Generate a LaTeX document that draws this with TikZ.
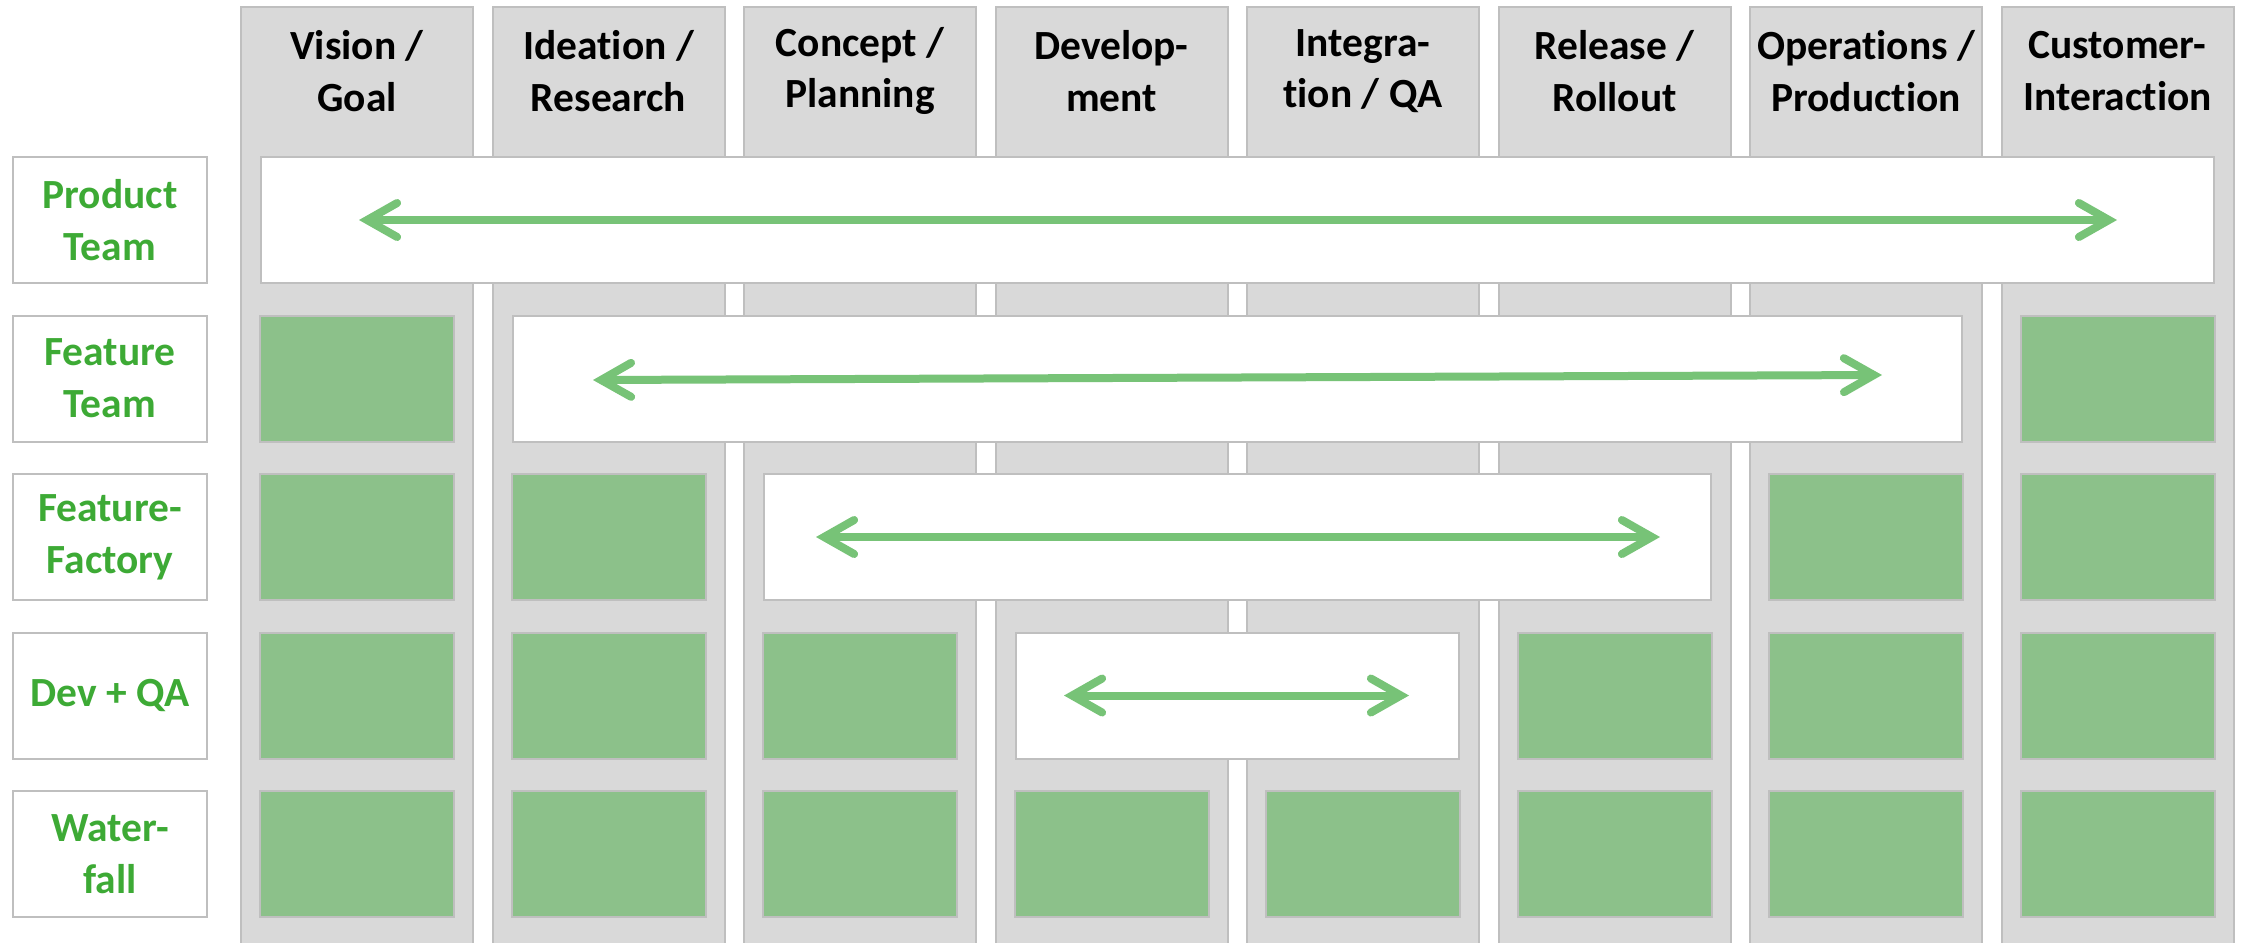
\documentclass[tikz,border=0pt]{standalone}
\usepackage{fontspec}
\setmainfont{Carlito}[Ligatures=NoCommon]
\usetikzlibrary{arrows.meta, positioning}
\definecolor{colgray}{HTML}{D9D9D9}
\definecolor{edgegray}{HTML}{BFBFBF}
\definecolor{boxgreen}{HTML}{8CC18A}
\definecolor{txtgreen}{HTML}{3DAA35}
\definecolor{arrgreen}{HTML}{77C377}

\begin{document}
\begin{tikzpicture}[x=0.1mm, y=-0.1mm,
   every node/.style = {font=\fontsize{11.8}{14.7}\selectfont\bfseries, outer sep=0pt, inner sep=0pt},
       phase/.style = {rectangle, draw=edgegray, fill=colgray, line width=0.2mm, anchor=north west,
                        minimum width=23.2mm, minimum height=100mm},
        head/.style = {align=center, text=black},
        team/.style = {rectangle, draw=edgegray, fill=white, line width=0.2mm, anchor=north west,
                        minimum width=19.4mm, minimum height=12.6mm, align=center, text=txtgreen},
        work/.style = {rectangle, draw=edgegray, fill=boxgreen, line width=0.2mm, anchor=north west,
                        minimum width=19.4mm, minimum height=12.6mm},
        span/.style = {rectangle, draw=edgegray, fill=white, line width=0.2mm, anchor=north west,
                        minimum height=12.6mm},
        flow/.style = {draw=arrgreen, line width=0.8mm,
                        {Straight Barb[length=3mm, width=3.4mm, line cap=round]}-{Straight Barb[length=3mm, width=3.4mm, line cap=round]}}
                        ]
\clip (0,0) rectangle (2244,942);
% phases
\foreach \txt [count=\i from 0] in {{Vision /\\Goal},{Ideation /\\Research},{Concept /\\Planning},
      {Develop-\\ment},{Integra-\\tion / QA},{Release /\\Rollout},{Operations /\\Production},{Customer-\\Interaction}}
{
  \node (c\i) [phase] at (241+251.5*\i, 7) {};
  \node (h\i) [head] at (357+251.5*\i, 71) {\txt};
}
% teams
\node (pt) [team] at (13,157)   {Product\\Team};
\node (ft) [team] at (13,315.5) {Feature\\Team};
\node (ff) [team] at (13,474)   {Feature-\\Factory};
\node (dq) [team] at (13,632.5) {Dev + QA};
\node (wf) [team] at (13,791)   {Water-\\fall};
% separate steps
\foreach \r/\cols in {1/{0,7}, 2/{0,1,6,7}, 3/{0,1,2,5,6,7}, 4/{0,1,2,3,4,5,6,7}}
  \foreach \c in \cols
    \node (w\r\c) [work] at (260+251.5*\c, 157+158.5*\r) {};
% spans
\node (spt) [span, minimum width=195.25mm] at (261,157)    {};
\node (sft) [span, minimum width=144.95mm] at (512.5,315.5) {};
\node (sff) [span, minimum width=94.65mm]  at (764,474)    {};
\node (sdq) [span, minimum width=44.35mm]  at (1015.5,632.5) {};
\draw[flow] ([xshift=9.8mm]spt.west) -- ([xshift=-9.65mm]spt.east);
\draw[flow] ([xshift=8.05mm, yshift=-0.15mm]sft.west) -- ([xshift=-8mm, yshift=0.35mm]sft.east);
\draw[flow] ([xshift=5.2mm]sff.west) -- ([xshift=-5.05mm]sff.east);
\draw[flow] ([xshift=4.85mm]sdq.west) -- ([xshift=-5mm]sdq.east);
\end{tikzpicture}
\end{document}
